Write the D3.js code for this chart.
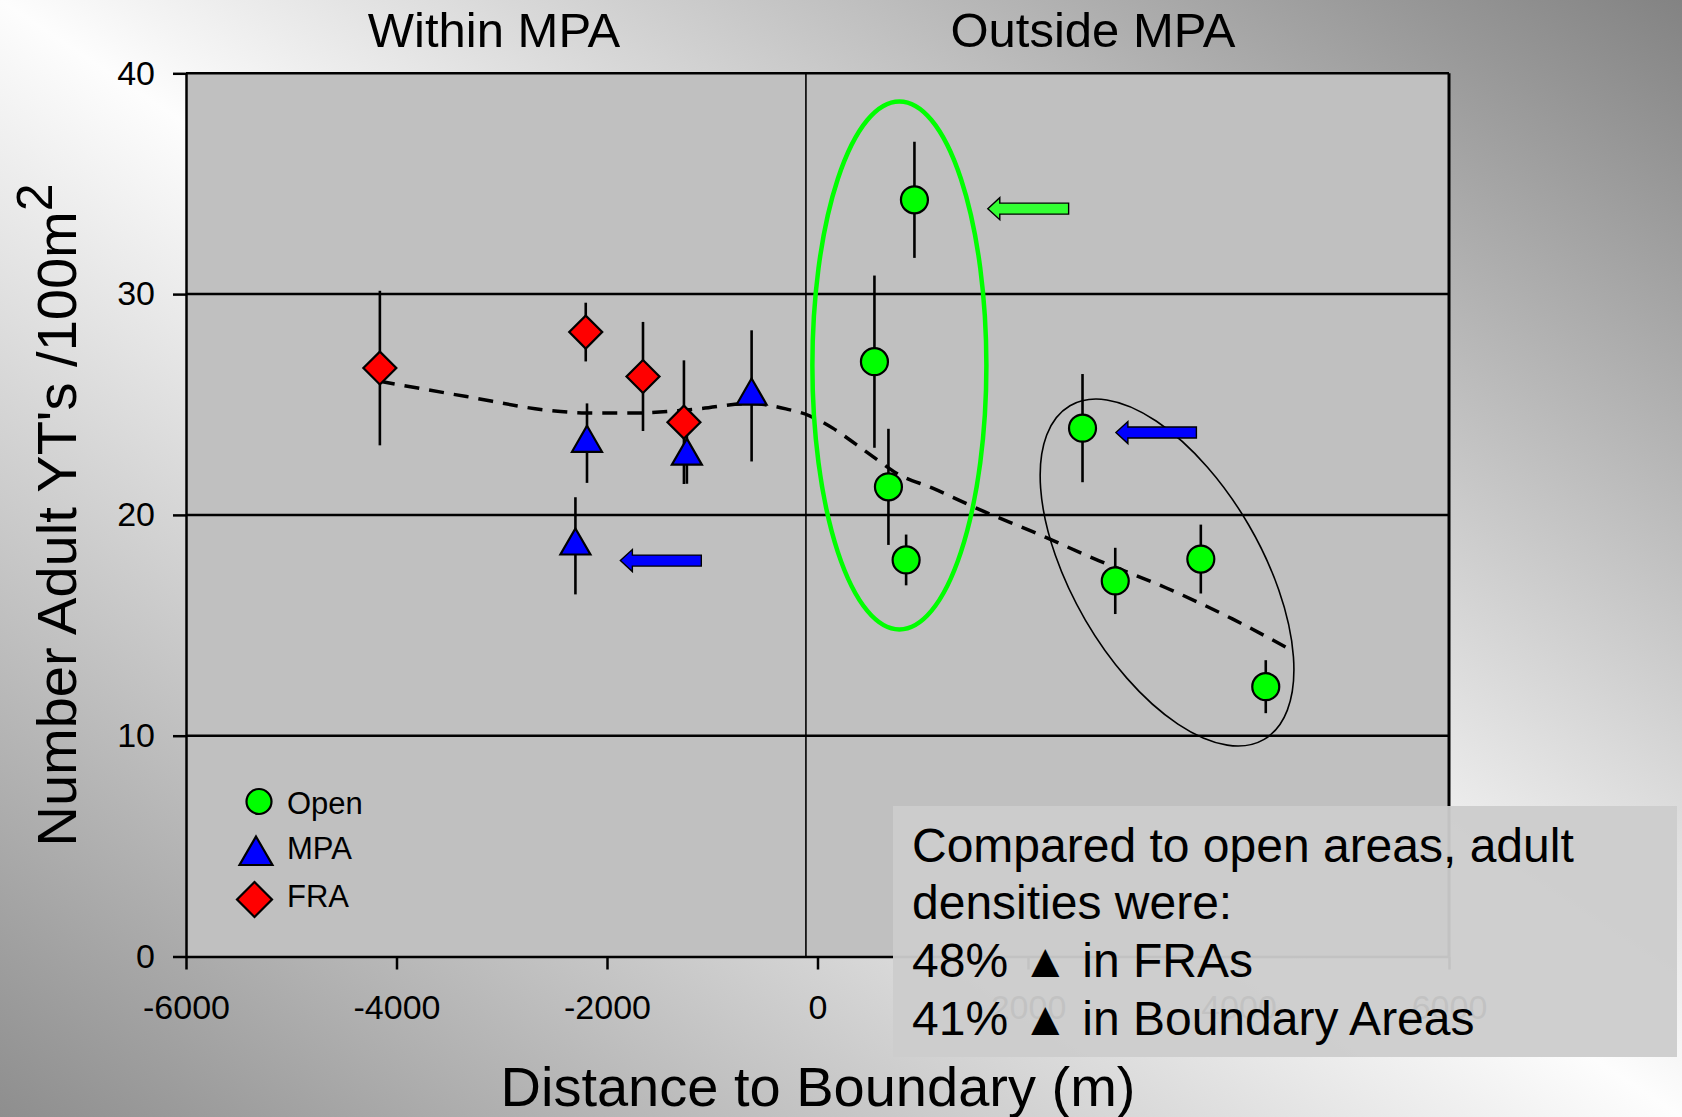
<!DOCTYPE html>
<html>
<head>
<meta charset="utf-8">
<script src="https://cdn.jsdelivr.net/npm/d3@7"></script>
<style>
  html, body { margin: 0; padding: 0; background: #fff; }
  svg { display: block; font-family: "Liberation Sans", Arial, sans-serif; }
</style>
</head>
<body>
<svg id="chart" width="1682" height="1117"></svg>
<script>
// ---------------- data ----------------
const xTicks = [-6000, -4000, -2000, 0, 2000, 4000, 6000];
const xTickLabels = ["-6000", "-4000", "-2000", "0", "2000", "4000", "6000"];
const yTicks = [0, 10, 20, 30, 40];
const yTickLabels = ["0", "10", "20", "30", "40"];

const openX   = [921, 541, 674, 842, 2518, 2829, 3642, 4259];
const openY   = [34.27, 26.94, 21.27, 17.96, 23.93, 17.01, 18.0, 12.22];
const openErr = [2.63, 3.9, 2.63, 1.15, 2.45, 1.5, 1.56, 1.2];

const mpaX   = [-2190, -1241, -626, -2300];
const mpaY   = [23.25, 22.67, 25.39, 18.6];
const mpaErr = [1.8, 1.26, 2.97, 2.2];

const fraX   = [-4158, -2202, -1658, -1269];
const fraY   = [26.65, 28.28, 26.27, 24.2];
const fraErr = [3.5, 1.33, 2.47, 2.8];

const trendX = [-4158, -3335, -2544, -2196, -1753, -1120, -645, -300, -80, 145, 370, 590, 750, 1094, 1569, 2044, 2677, 3310, 3942, 4496];
const trendY = [26.05, 25.36, 24.73, 24.62, 24.61, 24.81, 25.05, 24.8, 24.5, 23.93, 23.18, 22.42, 21.89, 21.21, 20.18, 19.24, 17.92, 16.70, 15.29, 13.89];

const boundaryX = -110;   // vertical divider line position (m)

const legendLabels = ["Open", "MPA", "FRA"];
const regionTitles = ["Within MPA", "Outside MPA"];
const xTitle = "Distance to Boundary (m)";
const yTitle = "Number Adult YT's /100m";
const noteLines = ["Compared to open areas, adult", "densities were:", "48% \u25B2 in FRAs", "41% \u25B2 in Boundary Areas"];

// annotations (data coords)
const greenEllipse = {x: 778, y: 26.77};
const blackEllipse = {x: 3321, y: 17.39};
const arrowTipX  = [1618, -1873, 2835];
const arrowTailX = [2386, -1104, 3600];
const arrowY     = [33.87, 17.93, 23.73];
const arrowColor = ["#33ff33", "#0000ff", "#0000ff"];

// ---------------- drawing ----------------
const W = 1682, H = 1117;
const svg = d3.select("#chart");
const x = d3.scaleLinear().domain([-6000, 6000]).range([186, 1449]);
const y = d3.scaleLinear().domain([0, 40]).range([956.5, 73.3]);

const defs = svg.append("defs");
const bg = defs.append("linearGradient").attr("id", "bg")
  .attr("x1", 1).attr("y1", 0).attr("x2", 0).attr("y2", 1);
bg.append("stop").attr("offset", 0).attr("stop-color", "#838383");
bg.append("stop").attr("offset", 0.5).attr("stop-color", "#fdfdfd");
bg.append("stop").attr("offset", 1).attr("stop-color", "#8e8e8e");
svg.append("rect").attr("width", W).attr("height", H).attr("fill", "url(#bg)");

// plot area
svg.append("rect")
  .attr("x", x(-6000)).attr("y", y(40))
  .attr("width", x(6000) - x(-6000)).attr("height", y(0) - y(40))
  .attr("fill", "#c0c0c0");

// gridlines + right border
svg.append("g").selectAll("line").data(yTicks.filter(d => d > 0)).join("line")
  .attr("x1", x(-6000)).attr("x2", x(6000))
  .attr("y1", d => y(d)).attr("y2", d => y(d))
  .attr("stroke", "#000").attr("stroke-width", 2.5);
svg.append("line")
  .attr("x1", x(6000)).attr("x2", x(6000)).attr("y1", y(40)).attr("y2", y(0))
  .attr("stroke", "#000").attr("stroke-width", 3);

// divider
svg.append("line")
  .attr("x1", x(boundaryX)).attr("x2", x(boundaryX)).attr("y1", y(40)).attr("y2", y(0))
  .attr("stroke", "#000").attr("stroke-width", 1.6);

// axes
const yAxis = svg.append("g").attr("transform", `translate(${x(-6000)},0)`)
  .call(d3.axisLeft(y).tickValues(yTicks).tickSize(13).tickSizeOuter(0).tickPadding(18)
    .tickFormat((d, i) => yTickLabels[i]));
const xAxis = svg.append("g").attr("transform", `translate(0,${y(0)})`)
  .call(d3.axisBottom(x).tickValues(xTicks).tickSize(13).tickSizeOuter(0).tickPadding(25)
    .tickFormat((d, i) => xTickLabels[i]));
[yAxis, xAxis].forEach(a => {
  a.select(".domain").attr("stroke", "#000").attr("stroke-width", 2.5);
  a.selectAll(".tick line").attr("stroke", "#000").attr("stroke-width", 2.5);
  a.selectAll(".tick text").attr("fill", "#000")
    .style("font-family", "'Liberation Sans', Arial, sans-serif").style("font-size", "34px");
});

// trend line
const trend = trendX.map((d, i) => [d, trendY[i]]);
svg.append("path")
  .attr("d", d3.line().x(d => x(d[0])).y(d => y(d[1])).curve(d3.curveMonotoneX)(trend))
  .attr("fill", "none").attr("stroke", "#000").attr("stroke-width", 3.5)
  .attr("stroke-dasharray", "15 10");

// error bars
function errBars(xs, ys, es) {
  svg.append("g").selectAll("line").data(xs).join("line")
    .attr("x1", d => x(d)).attr("x2", d => x(d))
    .attr("y1", (d, i) => y(ys[i] + es[i])).attr("y2", (d, i) => y(ys[i] - es[i]))
    .attr("stroke", "#000").attr("stroke-width", 2.6);
}
errBars(fraX, fraY, fraErr);
errBars(mpaX, mpaY, mpaErr);
errBars(openX, openY, openErr);

// markers
const symCircle = d3.symbol().type(d3.symbolCircle).size(572);
const symTri = d3.symbol().type(d3.symbolTriangle).size(390);
const symDia = d3.symbol().type(d3.symbolSquare).size(544);
function markers(xs, ys, sym, fill, rot) {
  svg.append("g").selectAll("path").data(xs).join("path")
    .attr("d", sym())
    .attr("transform", (d, i) => `translate(${x(d)},${y(ys[i])}) rotate(${rot})`)
    .attr("fill", fill).attr("stroke", "#000").attr("stroke-width", 2.2);
}
markers(fraX, fraY, symDia, "#ff0000", 45);
markers(mpaX, mpaY, symTri, "#0000ff", 0);
markers(openX, openY, symCircle, "#00ff00", 0);

// annotation ellipses
svg.append("ellipse")
  .attr("cx", x(greenEllipse.x)).attr("cy", y(greenEllipse.y))
  .attr("rx", 87).attr("ry", 264)
  .attr("fill", "none").attr("stroke", "#00ff00").attr("stroke-width", 4.5);
svg.append("ellipse")
  .attr("transform", `translate(${x(blackEllipse.x)},${y(blackEllipse.y)}) rotate(59.8)`)
  .attr("rx", 193).attr("ry", 94.5)
  .attr("fill", "none").attr("stroke", "#000").attr("stroke-width", 1.6);

// arrows
arrowTipX.forEach((tx, i) => {
  const x0 = x(tx), x1 = x(arrowTailX[i]), cy = y(arrowY[i]);
  const hb = 5.5, hh = 11, hl = 12;
  const p = d3.path();
  p.moveTo(x0, cy);
  p.lineTo(x0 + hl, cy - hh);
  p.lineTo(x0 + hl, cy - hb);
  p.lineTo(x1, cy - hb);
  p.lineTo(x1, cy + hb);
  p.lineTo(x0 + hl, cy + hb);
  p.lineTo(x0 + hl, cy + hh);
  p.closePath();
  svg.append("path").attr("d", p.toString())
    .attr("fill", arrowColor[i]).attr("stroke", "#000").attr("stroke-width", 1.4);
});

// legend
const legSyms = [
  {sym: d3.symbol().type(d3.symbolCircle).size(491), fill: "#00ff00", rot: 0, cx: 259, cy: 801.5, ty: 814},
  {sym: d3.symbol().type(d3.symbolTriangle).size(470), fill: "#0000ff", rot: 0, cx: 256, cy: 855.5, ty: 859},
  {sym: d3.symbol().type(d3.symbolSquare).size(612), fill: "#ff0000", rot: 45, cx: 254.5, cy: 899.5, ty: 907}
];
legSyms.forEach((s, i) => {
  svg.append("path").attr("d", s.sym())
    .attr("transform", `translate(${s.cx},${s.cy}) rotate(${s.rot})`)
    .attr("fill", s.fill).attr("stroke", "#000").attr("stroke-width", 2.2);
  svg.append("text").attr("x", 287).attr("y", s.ty)
    .attr("font-size", 31).attr("fill", "#000").text(legendLabels[i]);
});

// note box
svg.append("rect").attr("x", 893).attr("y", 806).attr("width", 784).attr("height", 251)
  .attr("fill", "#cccccc").attr("opacity", 0.95);
const noteY = [861.5, 918.5, 977, 1034.5];
noteLines.forEach((t, i) => {
  svg.append("text").attr("x", 912).attr("y", noteY[i])
    .attr("font-size", 48).attr("fill", "#000").text(t);
});

// titles
svg.append("text").attr("x", 494).attr("y", 47).attr("text-anchor", "middle")
  .attr("font-size", 49).attr("fill", "#000").text(regionTitles[0]);
svg.append("text").attr("x", 1093).attr("y", 47).attr("text-anchor", "middle")
  .attr("font-size", 49).attr("fill", "#000").text(regionTitles[1]);
svg.append("text").attr("x", 818).attr("y", 1106).attr("text-anchor", "middle")
  .attr("font-size", 56).attr("fill", "#000").text(xTitle);

const yt = svg.append("text").attr("transform", "translate(76,515) rotate(-90)")
  .attr("text-anchor", "middle").attr("font-size", 56).attr("fill", "#000");
yt.append("tspan").text(yTitle);
yt.append("tspan").attr("dy", -24).attr("font-size", 50).text("2");
</script>
</body>
</html>
